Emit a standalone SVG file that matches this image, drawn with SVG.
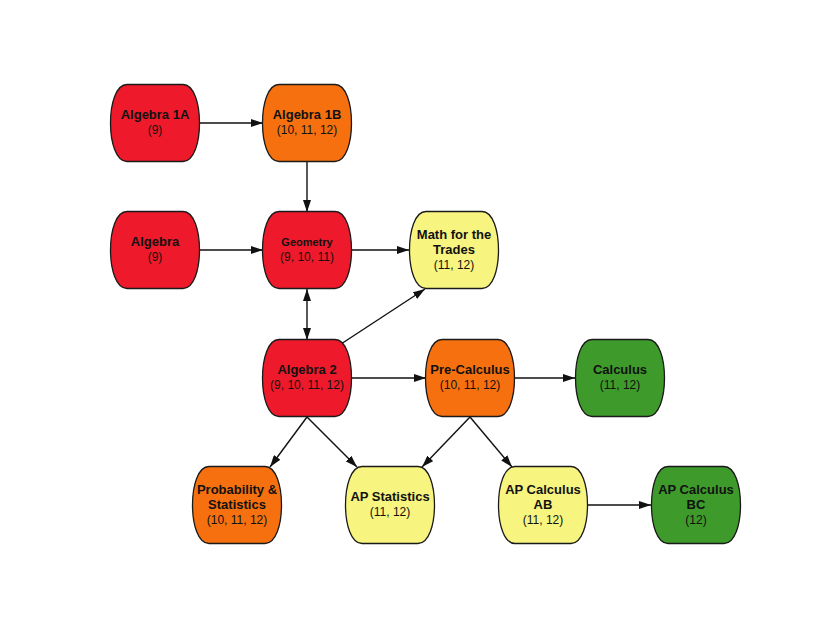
<svg xmlns="http://www.w3.org/2000/svg" width="825" height="638" viewBox="0 0 825 638">
<style>
.n{stroke:#1a1a1a;stroke-width:1.3}
.red{fill:#ee1a2b}
.org{fill:#f7700f}
.yel{fill:#f7f47f}
.grn{fill:#3e9a2b}
text{font-family:"Liberation Sans",Arial,sans-serif;text-anchor:middle;fill:#111}
.t{font-weight:bold;font-size:13px}
.ts{font-weight:bold;font-size:11px}
.s{font-size:12px}
.e{stroke:#111;stroke-width:1.4;fill:none;marker-end:url(#ah)}
</style>
<defs>
<path id="shp" d="M -28,-38.5 H 28 C 50,-38.5 50,38.5 28,38.5 H -28 C -50,38.5 -50,-38.5 -28,-38.5 Z"/>
<marker id="ah" viewBox="0 0 12 8" refX="12" refY="4" markerWidth="12" markerHeight="8" markerUnits="userSpaceOnUse" orient="auto-start-reverse">
<path d="M0,0 L12,4 L0,8 Z" fill="#111"/>
</marker>
</defs>
<rect width="825" height="638" fill="#fff"/>
<g id="connectors">
<line class="e" x1="200" y1="123" x2="263" y2="123"/>
<line class="e" x1="307" y1="161" x2="307" y2="212"/>
<line class="e" x1="200" y1="250" x2="263" y2="250"/>
<line class="e" x1="352" y1="250" x2="409" y2="250"/>
<line class="e" x1="307" y1="289" x2="307" y2="340" style="marker-start:url(#ah)"/>
<line class="e" x1="341" y1="344" x2="425" y2="289"/>
<line class="e" x1="352" y1="378" x2="426" y2="378"/>
<line class="e" x1="515" y1="378" x2="575" y2="378"/>
<line class="e" x1="307" y1="417" x2="270" y2="467"/>
<line class="e" x1="307" y1="417" x2="357" y2="467"/>
<line class="e" x1="470" y1="417" x2="422" y2="467"/>
<line class="e" x1="470" y1="417" x2="512" y2="467"/>
<line class="e" x1="588" y1="505" x2="651" y2="505"/>
</g>
<g id="alg1a" transform="translate(155,123)"><use href="#shp" class="n red"/><text class="t" y="-4">Algebra 1A</text><text class="s" y="11">(9)</text></g>
<g id="alg1b" transform="translate(307,123)"><use href="#shp" class="n org"/><text class="t" y="-4">Algebra 1B</text><text class="s" y="11">(10, 11, 12)</text></g>
<g id="algebra" transform="translate(155,250)"><use href="#shp" class="n red"/><text class="t" y="-4">Algebra</text><text class="s" y="11">(9)</text></g>
<g id="geometry" transform="translate(307,250)"><use href="#shp" class="n red"/><text class="ts" y="-4">Geometry</text><text class="s" y="11">(9, 10, 11)</text></g>
<g id="trades" transform="translate(454,250)"><use href="#shp" class="n yel"/><text class="t" y="-11">Math for the</text><text class="t" y="4">Trades</text><text class="s" y="19">(11, 12)</text></g>
<g id="alg2" transform="translate(307,378)"><use href="#shp" class="n red"/><text class="t" y="-4">Algebra 2</text><text class="s" y="11">(9, 10, 11, 12)</text></g>
<g id="precalc" transform="translate(470,378)"><use href="#shp" class="n org"/><text class="t" y="-4">Pre-Calculus</text><text class="s" y="11">(10, 11, 12)</text></g>
<g id="calculus" transform="translate(620,378)"><use href="#shp" class="n grn"/><text class="t" y="-4">Calculus</text><text class="s" y="11">(11, 12)</text></g>
<g id="prob" transform="translate(237,505)"><use href="#shp" class="n org"/><text class="t" y="-11">Probability &amp;</text><text class="t" y="4">Statistics</text><text class="s" y="19">(10, 11, 12)</text></g>
<g id="apstats" transform="translate(390,505)"><use href="#shp" class="n yel"/><text class="t" y="-4">AP Statistics</text><text class="s" y="11">(11, 12)</text></g>
<g id="apcalcab" transform="translate(543,505)"><use href="#shp" class="n yel"/><text class="t" y="-11">AP Calculus</text><text class="t" y="4">AB</text><text class="s" y="19">(11, 12)</text></g>
<g id="apcalcbc" transform="translate(696,505)"><use href="#shp" class="n grn"/><text class="t" y="-11">AP Calculus</text><text class="t" y="4">BC</text><text class="s" y="19">(12)</text></g>
</svg>
